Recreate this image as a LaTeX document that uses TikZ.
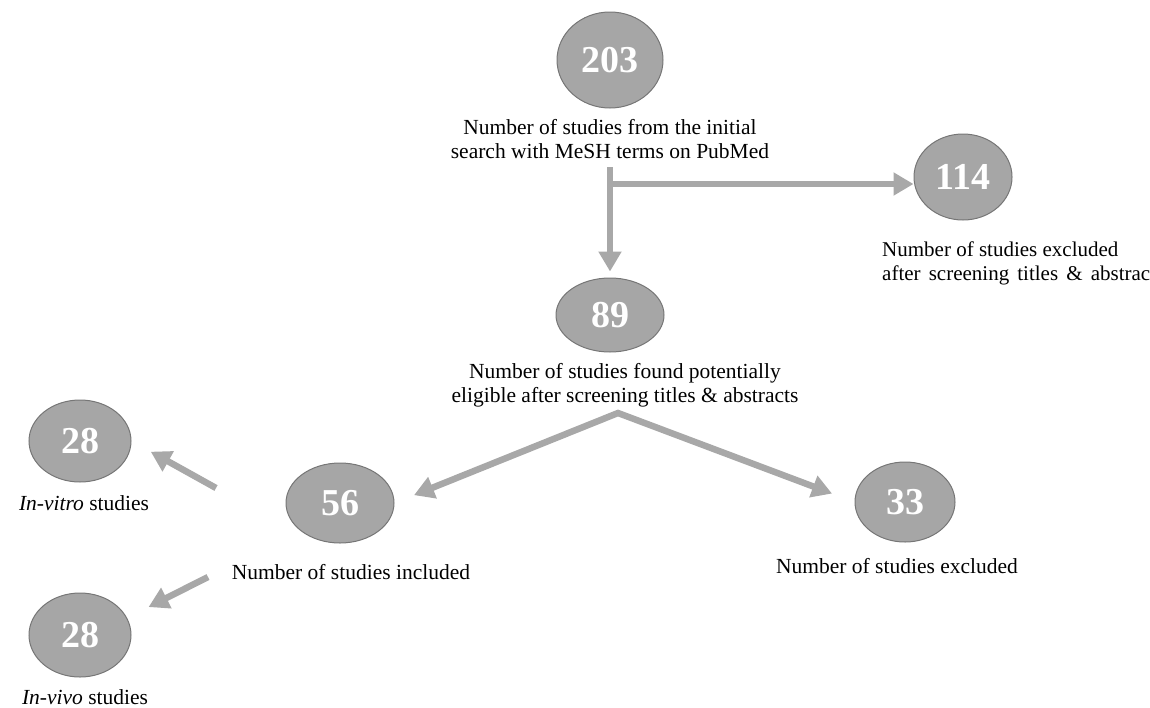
\documentclass[tikz,border=0pt]{standalone}
\usepackage{fontspec}
\setmainfont{Liberation Serif}
\usetikzlibrary{shapes.geometric,arrows.meta}
\definecolor{fillgray}{HTML}{A6A6A6}
\definecolor{edgegray}{HTML}{767676}
\definecolor{arrgray}{HTML}{A8A8A8}
\tikzset{
  num/.style={ellipse, fill=fillgray, draw=edgegray, line width=1pt, inner sep=0pt,
    text=white, font=\fontsize{38}{40}\selectfont\bfseries},
  lbl/.style={align=center, font=\fontsize{21.5}{24}\selectfont, text=black, inner sep=0pt},
  lbll/.style={align=left, font=\fontsize{21}{24}\selectfont, text=black, inner sep=0pt},
  arr/.style={draw=arrgray, line width=6.5pt, -{Triangle[length=20pt,width=22pt]}},
  arrboth/.style={draw=arrgray, line width=6.5pt, line join=miter,
    {Triangle[length=20pt,width=22pt]}-{Triangle[length=20pt,width=22pt]}},
  bar/.style={draw=arrgray, line width=6.5pt}
}
\begin{document}
\begin{tikzpicture}[x=1pt,y=-1pt]
\useasboundingbox (0,0) rectangle (1150,707);
\clip (0,0) rectangle (1150,707);
% nodes
\node[num, minimum width=106pt, minimum height=96pt] (n203) at (610,60) {203};
\node[num, minimum width=98pt, minimum height=86pt] (n114) at (963,177) {114};
\node[num, minimum width=108pt, minimum height=74pt] (n89) at (610,315) {89};
\node[num, minimum width=108pt, minimum height=80pt] (n56) at (340,503) {56};
\node[num, minimum width=100pt, minimum height=80pt] (n33) at (905,502) {33};
\node[num, minimum width=102pt, minimum height=82pt] (n28a) at (80,441) {28};
\node[num, minimum width=102pt, minimum height=84pt] (n28b) at (80,635) {28};
% labels
\node[lbl] (l203) at (610,139) {Number of studies from the initial\\search with MeSH terms on PubMed};
\node[lbll, anchor=west] (l114) at (882,263) {Number of studies excluded\\\makebox[282pt][s]{after screening titles \& abstracts}};
\node[lbl] (l89) at (625,385) {Number of studies found potentially\\eligible after screening titles \& abstracts};
\node[lbl] (l56) at (351,572) {Number of studies included};
\node[lbl] (l33) at (897,566) {Number of studies excluded};
\node[lbl] (l28a) at (84,503) {\textit{In-vitro} studies};
\node[lbl] (l28b) at (85,697) {\textit{In-vivo} studies};
% connectors
\coordinate (j1) at (610,167);
\coordinate (j2) at (610,184);
\coordinate (apex) at (618,413);
\coordinate (s1) at (216,488);
\coordinate (s2) at (208,577);
\draw[arr, shorten >=6pt] (j1) -- (n89);
\draw[arr] (j2) -- (j2 -| n114.west);
\draw[arrboth, shorten <=21pt, shorten >=24pt] (n56.east) -- (apex) -- (n33.west);
\draw[arr, shorten >=22pt] (s1) -- (n28a.east);
\draw[arr, shorten >=24pt] (s2) -- (n28b.20);
\end{tikzpicture}
\end{document}
